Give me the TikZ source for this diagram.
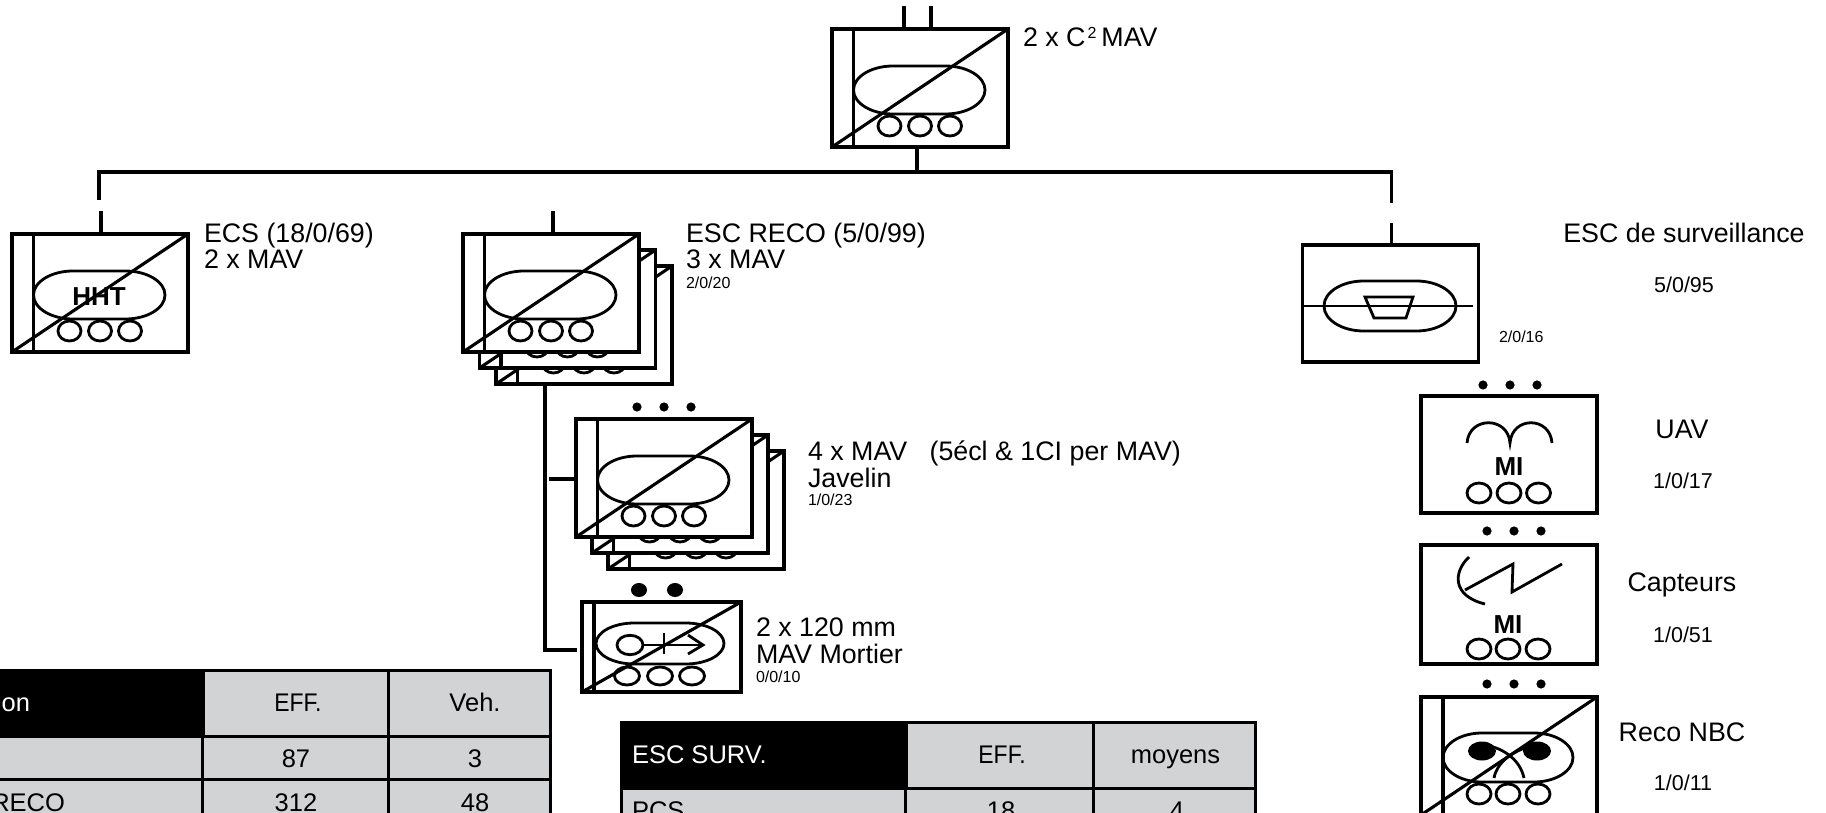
\documentclass[tikz,border=0pt]{standalone}
\usepackage{fontspec}
\setmainfont{Liberation Sans}
\definecolor{cellgrey}{HTML}{D2D3D5}
\tikzset{
  ubox/.style={draw=black,fill=white,line width=3.1pt,inner sep=0pt,outer sep=0pt,anchor=north west,minimum width=176pt,minimum height=118pt},
  sym/.style={line width=2.8pt,draw=black},
  wire/.style={line width=3.1pt,draw=black},
  lab/.style={anchor=base west,inner sep=0pt,outer sep=0pt,font=\fontsize{26.8}{26}\selectfont},
  mid/.style={anchor=base,inner sep=0pt,outer sep=0pt,font=\fontsize{26.8}{26}\selectfont},
  num/.style={anchor=base,inner sep=0pt,outer sep=0pt,font=\fontsize{21.5}{22}\selectfont},
  tiny/.style={anchor=base west,inner sep=0pt,outer sep=0pt,font=\fontsize{16}{16}\selectfont},
  bold/.style={anchor=base,inner sep=0pt,outer sep=0pt,font=\fontsize{26}{26}\selectfont\bfseries},
  cell/.style={anchor=base,inner sep=0pt,outer sep=0pt,font=\fontsize{25.5}{26}\selectfont},
  cellbox/.style={draw=black,line width=3pt,fill=cellgrey},
  dot/.style={fill=black,draw=none}
}
% stadium: x1,x2,top,bottom
\newcommand\stad[4]{%
  \draw[sym] ({#1+0.3*(#2-#1)},#3) -- ({#2-0.3*(#2-#1)},#3)
    .. controls ({#2-0.3*(#2-#1)+0.165*(#2-#1)},#3) and (#2,{#3+0.224*(#4-#3)}) .. (#2,{(#3+#4)/2})
    .. controls (#2,{#4-0.224*(#4-#3)}) and ({#2-0.3*(#2-#1)+0.165*(#2-#1)},#4) .. ({#2-0.3*(#2-#1)},#4)
    -- ({#1+0.3*(#2-#1)},#4)
    .. controls ({#1+0.135*(#2-#1)},#4) and (#1,{#4-0.224*(#4-#3)}) .. (#1,{(#3+#4)/2})
    .. controls (#1,{#3+0.224*(#4-#3)}) and ({#1+0.135*(#2-#1)},#3) .. ({#1+0.3*(#2-#1)},#3) -- cycle;}
% three wheels: x1,x2,x3,cy,rx,ry
\newcommand\wheels[6]{%
  \draw[sym] (#1,#4) ellipse [x radius=#5,y radius=#6];
  \draw[sym] (#2,#4) ellipse [x radius=#5,y radius=#6];
  \draw[sym] (#3,#4) ellipse [x radius=#5,y radius=#6];}
\newcommand\threedots[4]{%
  \fill[dot] (#1,#4) circle (4.6);
  \fill[dot] (#2,#4) circle (4.6);
  \fill[dot] (#3,#4) circle (4.6);}
% standard vehicle symbol: name, left, top
\newcommand\mavsym[3]{%
  \node[ubox] (#1) at (#2,#3) {};
  \begin{scope}[shift={(#2,#3)}]
    \draw[wire] (21.5,0) -- (21.5,118);
    \stad{21.5}{153}{37}{85}
    \wheels{57.5}{88}{118}{97}{11.5}{10}
    \draw[wire] (0,118) -- (176,0);
  \end{scope}}
\begin{document}
\begin{tikzpicture}[x=1pt,y=-1pt]
\useasboundingbox (0,0) rectangle (1826,813);
\clip (0,0) rectangle (1826,813);
\fill[white] (0,0) rectangle (1826,813);

% --- units
\mavsym{top}{832}{29}
\mavsym{ecs}{12}{234}
\node[bold] (ecshht) at (99,305) {HHT};
\mavsym{recoc}{496}{266}
\mavsym{recob}{479.5}{250}
\mavsym{recoa}{463}{234}
\mavsym{javc}{608}{451}
\mavsym{javb}{592}{435}
\mavsym{java}{576}{419}
\threedots{637}{664}{691}{407}

% mortar
\node[ubox,minimum width=159pt,minimum height=90pt] (mort) at (582,602) {};
\draw[wire] (594,602) -- (594,692);
\stad{596}{724}{623}{664}
\wheels{627}{660}{692}{676}{12.5}{9}
\draw[sym] (630,645) ellipse [x radius=13,y radius=9.7];
\draw[sym] (643,645) -- (703,645);
\draw[sym] (664,633) -- (664,654);
\draw[sym] (688,635) -- (703,645) -- (688,654);
\draw[wire] (582,692) -- (741,602);
\fill[dot] (639,590) ellipse [x radius=8,y radius=7];
\fill[dot] (675,590) ellipse [x radius=8,y radius=7];

% surveillance
\node[ubox,minimum height=117pt] (surv) at (1302.5,245) {};
\stad{1324}{1456}{281}{331}
\draw[sym] (1303,306) -- (1473,306);
\draw[sym] (1365,297) -- (1413,297) -- (1406,318) -- (1374,318) -- cycle;

% UAV
\node[ubox,minimum height=117pt] (uav) at (1421,396) {};
\threedots{1483}{1510}{1537}{385}
\draw[sym] (1467,443) .. controls (1469,416) and (1508,416) .. (1510,443)
           .. controls (1512,416) and (1550,416) .. (1552,443);
\node[bold] (uavmi) at (1509,475) {MI};
\wheels{1479}{1509}{1538.5}{493}{12}{10}

% Capteurs
\node[ubox,minimum height=119pt] (capt) at (1421,545) {};
\threedots{1487}{1514}{1541}{531}
\draw[sym] (1562,564) -- (1512,592) -- (1513,564) -- (1465,590);
\draw[sym] (1469,557) .. controls (1453,572) and (1452,596) .. (1485,604);
\node[bold] (captmi) at (1508,633) {MI};
\wheels{1479}{1508}{1538}{649}{12}{10}

% NBC
\node[ubox] (nbc) at (1421,697) {};
\threedots{1487}{1514}{1541}{684}
\draw[wire] (1443,697) -- (1443,815);
\stad{1443}{1573}{733}{782}
\fill[dot] (1482,751) ellipse [x radius=14,y radius=9.5];
\fill[dot] (1537,751) ellipse [x radius=14,y radius=9.5];
\draw[sym] (1490,746) .. controls (1505,750) and (1520,760) .. (1524,778);
\draw[sym] (1530,746) .. controls (1512,752) and (1497,762) .. (1494,778);
\wheels{1479}{1508}{1538}{794}{12}{10}
\draw[wire] (1421,815) -- (1597,697);

% --- connectors
\coordinate (stubA) at (904,6);
\coordinate (stubAe) at (904,29);
\coordinate (stubB) at (931,6);
\coordinate (stubBe) at (931,29);
\coordinate (topfoot) at (917,147);
\coordinate (topbus) at (917,172);
\coordinate (busL) at (99,172);
\coordinate (busR) at (1391.5,172);
\coordinate (dropL) at (99,200);
\coordinate (dropR) at (1391.5,203);
\coordinate (ecsup) at (101,211);
\coordinate (ecstop) at (101,234);
\coordinate (recoup) at (553,211);
\coordinate (recotop) at (553,234);
\coordinate (survup) at (1391.5,223);
\coordinate (survtop) at (1391.5,245);
\coordinate (spine) at (545,386);
\coordinate (spinefoot) at (545,650);
\coordinate (mortin) at (577,650);
\coordinate (javs) at (549,479);
\coordinate (javin) at (574,479);
\draw[wire] (stubA) -- (stubAe);
\draw[wire] (stubB) -- (stubBe);
\draw[wire] (topfoot) -- (topbus);
\draw[wire] (dropL) -- (busL) -- (busR) -- (dropR);
\draw[wire] (ecsup) -- (ecstop);
\draw[wire] (recoup) -- (recotop);
\draw[wire] (survup) -- (survtop);
\draw[wire] (spine) -- (spinefoot) -- (mortin);
\draw[wire] (javs) -- (javin);

% --- labels
\node[lab] (tTop) at (1023,47) {2 x C\hspace{2pt}\raisebox{8.5pt}{\fontsize{16}{16}\selectfont 2}\hspace{5pt}MAV};
\node[lab] (tEcsA) at (204,243) {ECS (18/0/69)};
\node[lab] (tEcsB) at (204,269) {2 x MAV};
\node[lab] (tRecoA) at (686,243) {ESC RECO (5/0/99)};
\node[lab] (tRecoB) at (686,269) {3 x MAV};
\node[tiny] (tRecoC) at (686,288) {2/0/20};
\node[lab] (tJavA) at (808,460) {4 x MAV\ \ \ (5écl \& 1CI per MAV)};
\node[lab] (tJavB) at (808,487) {Javelin};
\node[tiny] (tJavC) at (808,505) {1/0/23};
\node[lab] (tMorA) at (756,636) {2 x 120 mm};
\node[lab] (tMorB) at (756,663) {MAV Mortier};
\node[tiny] (tMorC) at (756,682) {0/0/10};
\node[mid] (tSurvA) at (1684,243) {ESC de surveillance};
\node[num] (tSurvB) at (1684,292) {5/0/95};
\node[tiny] (tSurvC) at (1499,342) {2/0/16};
\node[mid] (tUavA) at (1682,438) {UAV};
\node[num] (tUavB) at (1683,488) {1/0/17};
\node[mid] (tCapA) at (1682,591) {Capteurs};
\node[num] (tCapB) at (1683,642) {1/0/51};
\node[mid] (tNbcA) at (1682,741) {Reco NBC};
\node[num] (tNbcB) at (1683,790) {1/0/11};

% --- left table
\filldraw[cellbox] (-5,736) rectangle (202,779);
\filldraw[cellbox] (-5,779) rectangle (202,822);
\filldraw[cellbox] (202,736) rectangle (388.5,779);
\filldraw[cellbox] (202,779) rectangle (388.5,822);
\filldraw[cellbox] (388.5,736) rectangle (550.5,779);
\filldraw[cellbox] (388.5,779) rectangle (550.5,822);
\filldraw[cellbox] (203.5,670) rectangle (388.5,736);
\filldraw[cellbox] (388.5,670) rectangle (550.5,736);
\fill[black] (-5,668.5) rectangle (203.5,737);
\node[cell,anchor=base east,text=white] (lh) at (30,711) {on};
\node[cell] (lh2) at (298,711) {\scalebox{.9}[1]{EFF.}};
\node[cell] (lh3) at (475,711) {Veh.};
\node[cell] (l22) at (296,767) {87};
\node[cell] (l23) at (475,767) {3};
\node[cell,anchor=base east] (l31) at (65,811) {RECO};
\node[cell] (l32) at (296,811) {312};
\node[cell] (l33) at (475,811) {48};

% --- right table
\filldraw[cellbox] (621,788) rectangle (905,831);
\filldraw[cellbox] (905,788) rectangle (1093.5,831);
\filldraw[cellbox] (1093.5,788) rectangle (1255.5,831);
\filldraw[cellbox] (906.5,722) rectangle (1093.5,788);
\filldraw[cellbox] (1093.5,722) rectangle (1255.5,788);
\fill[black] (619.5,720.5) rectangle (906.5,789);
\node[cell,anchor=base west,text=white] (rh) at (632,763) {ESC SURV.};
\node[cell] (rh2) at (1002,763) {\scalebox{.9}[1]{EFF.}};
\node[cell] (rh3) at (1175.5,763) {moyens};
\node[cell,anchor=base west] (r21) at (632,819) {PCS};
\node[cell] (r22) at (1001,819) {18};
\node[cell] (r23) at (1177,819) {4};
\end{tikzpicture}
\end{document}
